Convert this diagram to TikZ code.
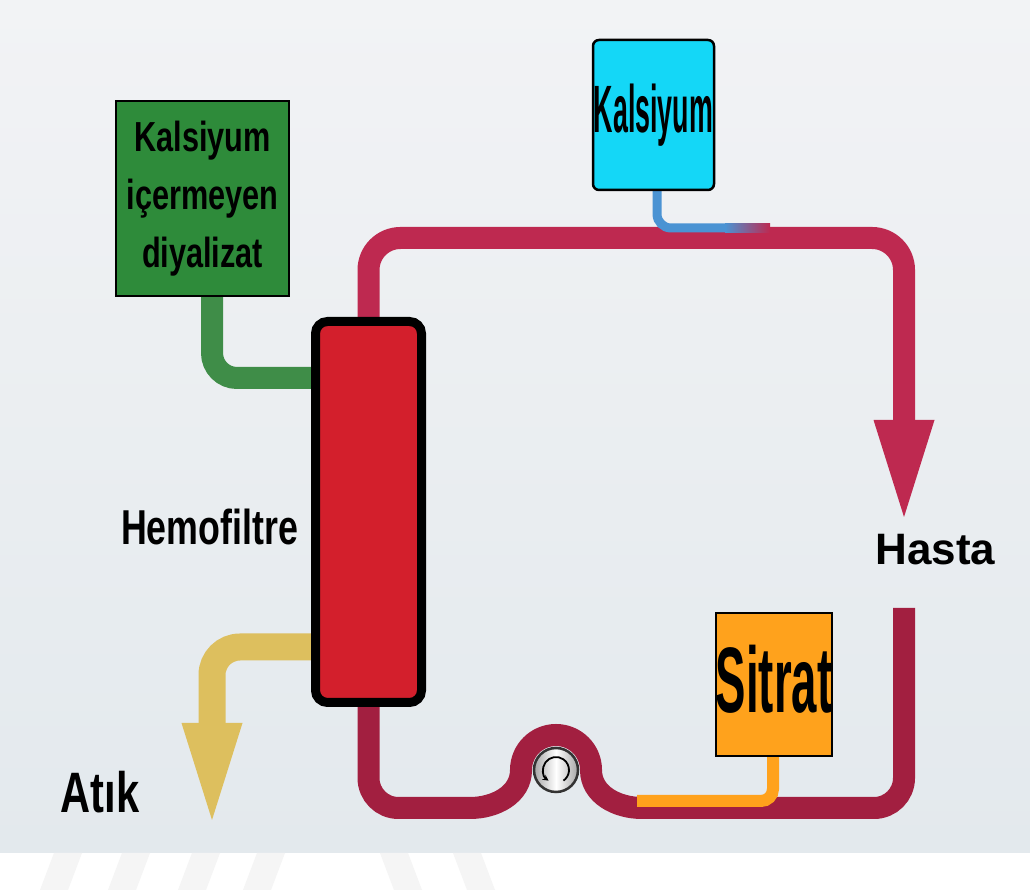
\documentclass[tikz,border=0pt]{standalone}
\usepackage{fontspec}
\setmainfont{Liberation Sans}
\newfontfamily\narrowfont[FakeStretch=0.73]{Liberation Sans}
\newfontfamily\kalfont[FakeStretch=0.40]{Liberation Sans}
\newfontfamily\sitfont[FakeStretch=0.49]{Liberation Sans}
\usetikzlibrary{arrows.meta}

\definecolor{bgtop}{HTML}{F2F3F5}
\definecolor{bgbot}{HTML}{E3E9ED}
\definecolor{bloodup}{HTML}{BE2950}
\definecolor{blooddown}{HTML}{A21F40}
\definecolor{hemored}{HTML}{D31F2C}
\definecolor{dialgreen}{HTML}{2E8B3A}
\definecolor{greenpipe}{HTML}{3F8D48}
\definecolor{calcyan}{HTML}{14D7F7}
\definecolor{calblue}{HTML}{4A93D3}
\definecolor{citorange}{HTML}{FFA21C}
\definecolor{wasteyellow}{HTML}{DDBF5E}

\pgfdeclarelayer{back}
\pgfdeclarelayer{pipes}
\pgfsetlayers{back,pipes,main}

\tikzset{
  pipe/.style={line width=22pt, line cap=butt},
  uppipe/.style={pipe, draw=bloodup, rounded corners=32pt},
  lowpipe/.style={pipe, draw=blooddown},
  bigtip/.style={-{Triangle[width=61pt,length=97pt,line width=0pt]}},
  box/.style={draw=black, line width=2pt, inner sep=0pt, align=center},
  stripe/.style={fill=black!4}
}

\begin{document}
\begin{tikzpicture}[x=1pt,y=1pt]
\useasboundingbox (0,0) rectangle (1030,893);

% background
\begin{pgfonlayer}{back}
\fill[white] (0,0) rectangle (1030,40);
\shade[top color=bgtop, bottom color=bgbot] (0,40) rectangle (1030,893);
\foreach \x in {40,108,178,243} % stripes /
\fill[stripe] (\x,3) -- ++(28,0) -- ++(14,37) -- ++(-28,0) -- cycle;
\foreach \x in {380,453} % stripes \
\fill[stripe] (\x,40) -- ++(28,0) -- ++(14,-37) -- ++(-28,0) -- cycle;
\end{pgfonlayer}

% boxes
\node[box, fill=dialgreen, minimum width=173pt, minimum height=195pt,
  font=\narrowfont\bfseries\fontsize{42}{58}\selectfont] (dial) at (202.5,694.5)
  {Kalsiyum\\içermeyen\\diyalizat};
\node[box, rounded corners=6pt, line width=2.5pt, fill=calcyan, minimum width=121pt,
  minimum height=150pt, font=\kalfont\bfseries\fontsize{67}{70}\selectfont] (kal) at (653.5,778) {Kalsiyum};
\node[box, fill=citorange, minimum width=116pt, minimum height=143pt, text depth=12pt,
  font=\sitfont\bfseries\fontsize{93}{96}\selectfont] (sit) at (774,208.5) {Sitrat};
\node[draw=black, line width=9pt, fill=hemored, rounded corners=12pt,
  minimum width=106pt, minimum height=381pt] (hemo) at (368.5,381) {};
\node[circle, draw=black!80, line width=2.5pt, left color=black!35, right color=black!35,
  middle color=white, minimum size=44pt, inner sep=0pt] (pump) at (556,123) {};
\draw[line width=1.8pt, {Stealth[length=6pt,width=6pt]}-] ([shift={(235:13pt)}]pump.center)
  arc[start angle=235, end angle=-55, radius=13pt];

% labels
\node[anchor=base, font=\narrowfont\bfseries\fontsize{49}{52}\selectfont] (hemolbl) at (209.5,348) {Hemofiltre};
\node[anchor=base, font=\bfseries\fontsize{44}{46}\selectfont] (hasta) at (935.5,328) {Hasta};
\node[anchor=base, font=\narrowfont\bfseries\fontsize{57}{60}\selectfont] (atik) at (100,80) {Atık};

\coordinate (hastaIn) at (904,376);
\coordinate (hastaOut) at (904,285);
\coordinate (atikIn) at (212,73);
\coordinate (calEnd) at (725,665);
\coordinate (citEnd) at (637,92);

% pipes
\begin{pgfonlayer}{pipes}
\draw[pipe, draw=greenpipe, rounded corners=25pt] ([xshift=9.5pt]dial.south) |- ([yshift=134pt]hemo.west);
\draw[pipe, line width=27pt, draw=wasteyellow, rounded corners=28pt, bigtip] ([yshift=-135pt]hemo.west) -| (atikIn);
\draw[uppipe, draw=bloodup, bigtip] (hemo.north) -- (hemo.north |- 0,655) -- (904,655) -- (hastaIn);
\draw[lowpipe] (hemo.south) -- (hemo.south |- 0,115) arc[start angle=180, end angle=270, radius=30pt]
  -- (470,85) to[out=0,in=-90] ([xshift=-35pt]pump.center) arc[start angle=180, end angle=0, radius=35pt]
  to[out=-90,in=180] (642,85) -- (874,85) arc[start angle=270, end angle=360, radius=30pt] -- (hastaOut);
\draw[line width=9pt, draw=calblue, rounded corners=14pt] ([xshift=3.5pt]kal.south) |- (calEnd);
\shade[left color=calblue, right color=bloodup] (725,660.5) rectangle (770,669.5);
\draw[line width=12pt, draw=citorange, rounded corners=12pt] ([xshift=-1pt]sit.south) |- (citEnd);
\end{pgfonlayer}
\end{tikzpicture}
\end{document}
